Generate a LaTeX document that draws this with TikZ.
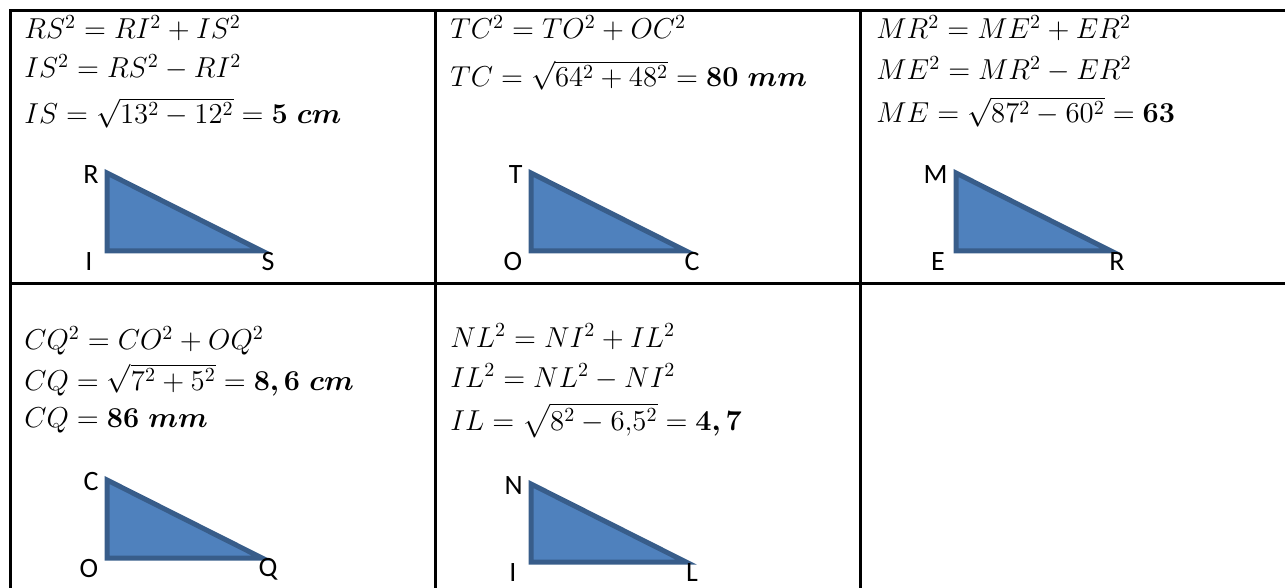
\documentclass[tikz,border=0pt]{standalone}
\usepackage{bm}
\usepackage{amssymb}
\usepackage{amsmath}
\usepackage{fontspec}
\newfontfamily\labelfont{Carlito}
\usetikzlibrary{positioning}
\definecolor{trifill}{RGB}{79,129,189}
\definecolor{triedge}{RGB}{56,93,138}
\tikzset{
    grid line/.style={line width=1.5pt}, % 表格线
    tri/.style={fill=trifill, draw=triedge, line width=2.5pt, line join=miter}, % 直角三角形
    vertex/.style={font=\fontsize{14}{17}\labelfont, inner sep=0pt}, % 顶点字母
    eq/.style={anchor=base west, inner sep=0pt, font=\fontsize{14}{17}\selectfont} % 每行算式
}

\begin{document}
\begin{tikzpicture}[x=0.5pt, y=-0.5pt]
    \useasboundingbox (0,0) rectangle (1285,588);

    \draw[grid line] (10,588) |- (1285,11);
    \draw[grid line] (10,284) -- (1285,284);
    \draw[grid line] (435,11) -- (435,588);
    \draw[grid line] (860,11) -- (860,588);

    \node[eq] (a1) at (24,39) {$RS^2 = RI^2 + IS^2$};
    \node[eq] (a2) at (24,78) {$IS^2 = RS^2 - RI^2$};
    \node[eq] (a3) at (24,124) {$IS = \sqrt{13^2 - 12^2} = \bm{5\ cm}$};

    \node[eq] (b1) at (450,39) {$TC^2 = TO^2 + OC^2$};
    \node[eq] (b2) at (450,87) {$TC = \sqrt{64^2 + 48^2} = \bm{80\ mm}$};

    \node[eq] (c1) at (876,39) {$MR^2 = ME^2 + ER^2$};
    \node[eq] (c2) at (876,80) {$ME^2 = MR^2 - ER^2$};
    \node[eq] (c3) at (876,123) {$ME = \sqrt{87^2 - 60^2} = \bm{63}$};

    \node[eq] (d1) at (24,350) {$CQ^2 = CO^2 + OQ^2$};
    \node[eq] (d2) at (24,390) {$CQ = \sqrt{7^2 + 5^2} = \bm{8,6\ cm}$};
    \node[eq] (d3) at (24,427) {$CQ = \bm{86\ mm}$};

    \node[eq] (e1) at (450,347) {$NL^2 = NI^2 + IL^2$};
    \node[eq] (e2) at (450,387) {$IL^2 = NL^2 - NI^2$};
    \node[eq] (e3) at (450,430) {$IL = \sqrt{8^2 - 6{,}5^2} = \bm{4,7}$};

    \foreach \x/\y/\n/\p/\q/\r in {107/173/a/R/I/S, 531/173/b/T/O/C, 956/173/c/M/E/R, 107/480/d/C/O/Q, 531/484/e/N/I/L} {
        \coordinate (\n top) at (\x,\y);
        \coordinate (\n cor) at (\x,\y+78);
        \coordinate (\n tip) at (\x+155,\y+78);
        \draw[tri] (\n top) -- (\n cor) -- (\n tip) -- cycle;
        \node[vertex, anchor=east] (\n top label) at (\x-8,\y+2) {\p};
        \node[vertex] (\n cor label) at (\x-18,\y+89) {\q};
        \node[vertex] (\n tip label) at (\x+161,\y+89) {\r};
    }
\end{tikzpicture}
\end{document}
